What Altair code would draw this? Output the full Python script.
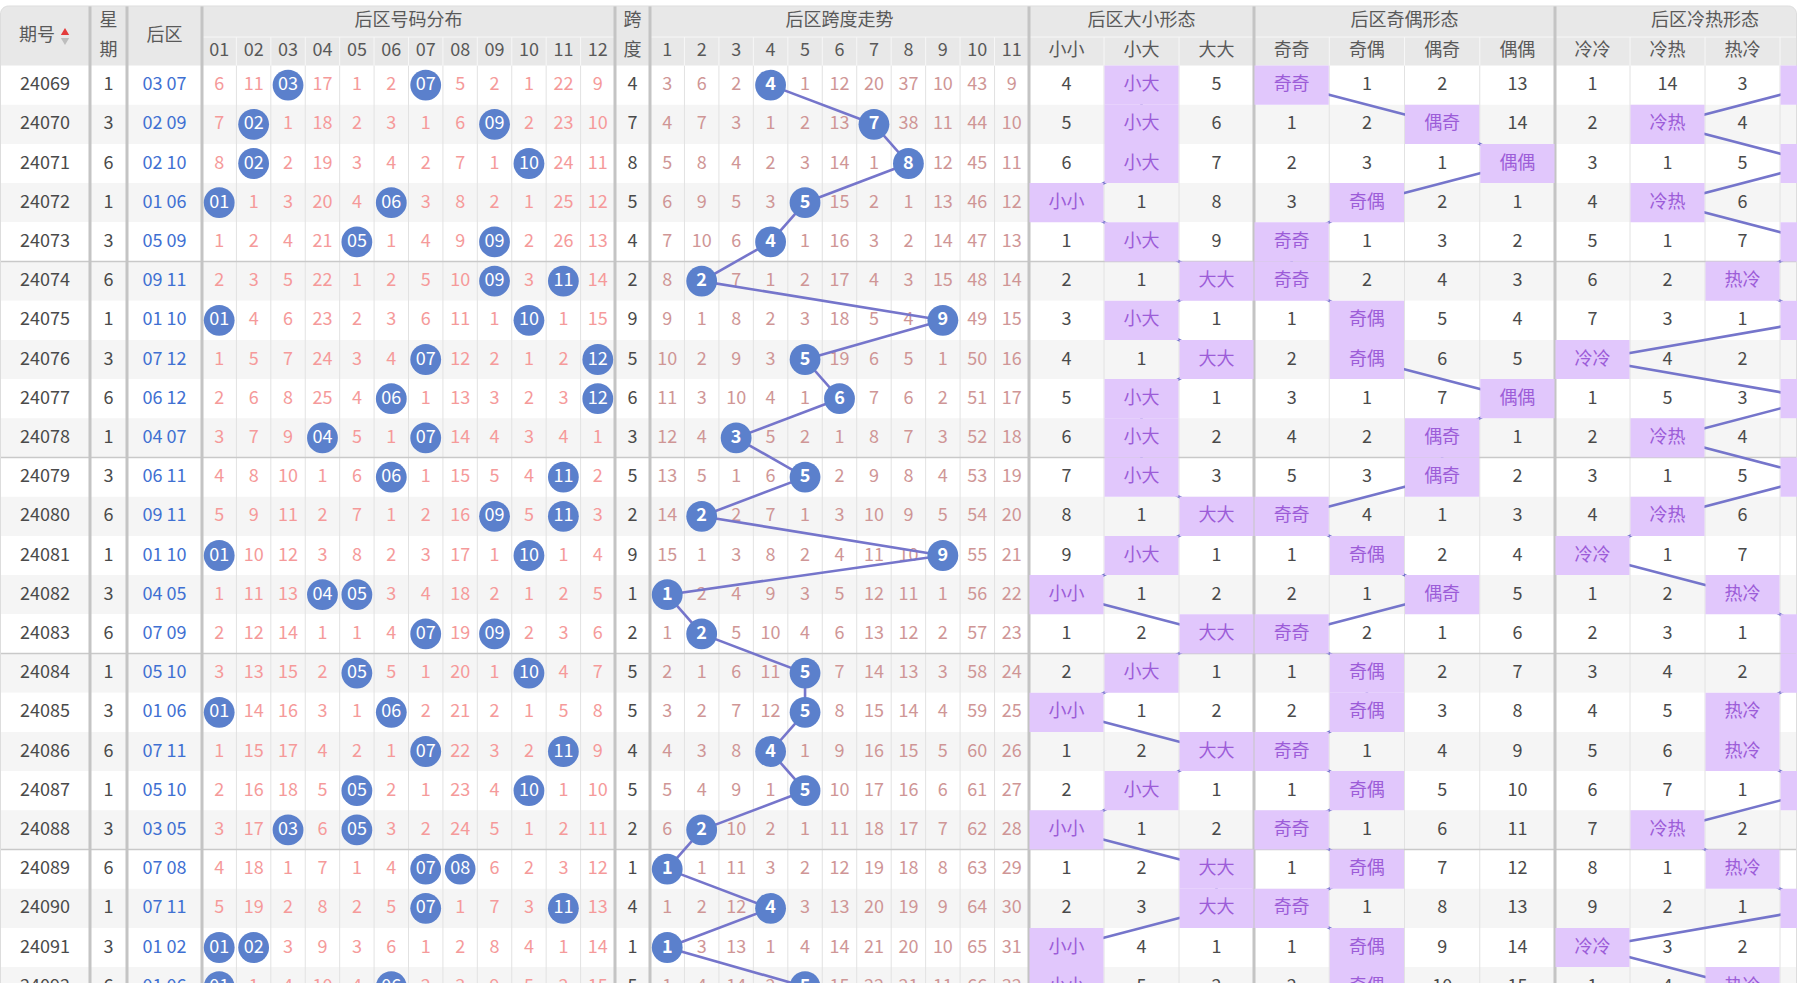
import altair as alt
import pandas as pd

W, H = 1797, 983

# ---------------- data ----------------
issues = ["24069", "24070", "24071", "24072", "24073", "24074", "24075", "24076",
          "24077", "24078", "24079", "24080", "24081", "24082", "24083", "24084",
          "24085", "24086", "24087", "24088", "24089", "24090", "24091", "24092"]
weekdays = [1, 3, 6, 1, 3, 6, 1, 3, 6, 1, 3, 6, 1, 3, 6, 1, 3, 6, 1, 3, 6, 1, 3, 6]
back_nums = ["03 07", "02 09", "02 10", "01 06", "05 09", "09 11", "01 10", "07 12",
             "06 12", "04 07", "06 11", "09 11", "01 10", "04 05", "07 09", "05 10",
             "01 06", "07 11", "05 10", "03 05", "07 08", "07 11", "01 02", "01 06"]
spans = [4, 7, 8, 5, 4, 2, 9, 5, 6, 3, 5, 2, 9, 1, 2, 5, 5, 4, 5, 2, 1, 4, 1, 5]

num_labels = ["01", "02", "03", "04", "05", "06", "07", "08", "09", "10", "11", "12"]
span_labels = ["1", "2", "3", "4", "5", "6", "7", "8", "9", "10", "11"]
size_labels = ["小小", "小大", "大大"]
oe_labels = ["奇奇", "奇偶", "偶奇", "偶偶"]
hc_labels = ["冷冷", "冷热", "热冷", "热热"]

# omission values, 0 marks the drawn number / current form
dist_omit = [
    [6, 11, 0, 17, 1, 2, 0, 5, 2, 1, 22, 9],
    [7, 0, 1, 18, 2, 3, 1, 6, 0, 2, 23, 10],
    [8, 0, 2, 19, 3, 4, 2, 7, 1, 0, 24, 11],
    [0, 1, 3, 20, 4, 0, 3, 8, 2, 1, 25, 12],
    [1, 2, 4, 21, 0, 1, 4, 9, 0, 2, 26, 13],
    [2, 3, 5, 22, 1, 2, 5, 10, 0, 3, 0, 14],
    [0, 4, 6, 23, 2, 3, 6, 11, 1, 0, 1, 15],
    [1, 5, 7, 24, 3, 4, 0, 12, 2, 1, 2, 0],
    [2, 6, 8, 25, 4, 0, 1, 13, 3, 2, 3, 0],
    [3, 7, 9, 0, 5, 1, 0, 14, 4, 3, 4, 1],
    [4, 8, 10, 1, 6, 0, 1, 15, 5, 4, 0, 2],
    [5, 9, 11, 2, 7, 1, 2, 16, 0, 5, 0, 3],
    [0, 10, 12, 3, 8, 2, 3, 17, 1, 0, 1, 4],
    [1, 11, 13, 0, 0, 3, 4, 18, 2, 1, 2, 5],
    [2, 12, 14, 1, 1, 4, 0, 19, 0, 2, 3, 6],
    [3, 13, 15, 2, 0, 5, 1, 20, 1, 0, 4, 7],
    [0, 14, 16, 3, 1, 0, 2, 21, 2, 1, 5, 8],
    [1, 15, 17, 4, 2, 1, 0, 22, 3, 2, 0, 9],
    [2, 16, 18, 5, 0, 2, 1, 23, 4, 0, 1, 10],
    [3, 17, 0, 6, 0, 3, 2, 24, 5, 1, 2, 11],
    [4, 18, 1, 7, 1, 4, 0, 0, 6, 2, 3, 12],
    [5, 19, 2, 8, 2, 5, 0, 1, 7, 3, 0, 13],
    [0, 0, 3, 9, 3, 6, 1, 2, 8, 4, 1, 14],
    [0, 1, 4, 10, 4, 0, 2, 3, 9, 5, 2, 15],
]
span_omit = [
    [3, 6, 2, 0, 1, 12, 20, 37, 10, 43, 9],
    [4, 7, 3, 1, 2, 13, 0, 38, 11, 44, 10],
    [5, 8, 4, 2, 3, 14, 1, 0, 12, 45, 11],
    [6, 9, 5, 3, 0, 15, 2, 1, 13, 46, 12],
    [7, 10, 6, 0, 1, 16, 3, 2, 14, 47, 13],
    [8, 0, 7, 1, 2, 17, 4, 3, 15, 48, 14],
    [9, 1, 8, 2, 3, 18, 5, 4, 0, 49, 15],
    [10, 2, 9, 3, 0, 19, 6, 5, 1, 50, 16],
    [11, 3, 10, 4, 1, 0, 7, 6, 2, 51, 17],
    [12, 4, 0, 5, 2, 1, 8, 7, 3, 52, 18],
    [13, 5, 1, 6, 0, 2, 9, 8, 4, 53, 19],
    [14, 0, 2, 7, 1, 3, 10, 9, 5, 54, 20],
    [15, 1, 3, 8, 2, 4, 11, 10, 0, 55, 21],
    [0, 2, 4, 9, 3, 5, 12, 11, 1, 56, 22],
    [1, 0, 5, 10, 4, 6, 13, 12, 2, 57, 23],
    [2, 1, 6, 11, 0, 7, 14, 13, 3, 58, 24],
    [3, 2, 7, 12, 0, 8, 15, 14, 4, 59, 25],
    [4, 3, 8, 0, 1, 9, 16, 15, 5, 60, 26],
    [5, 4, 9, 1, 0, 10, 17, 16, 6, 61, 27],
    [6, 0, 10, 2, 1, 11, 18, 17, 7, 62, 28],
    [0, 1, 11, 3, 2, 12, 19, 18, 8, 63, 29],
    [1, 2, 12, 0, 3, 13, 20, 19, 9, 64, 30],
    [0, 3, 13, 1, 4, 14, 21, 20, 10, 65, 31],
    [1, 4, 14, 2, 0, 15, 22, 21, 11, 66, 32],
]
size_omit = [
    [4, 0, 5], [5, 0, 6], [6, 0, 7], [0, 1, 8], [1, 0, 9], [2, 1, 0], [3, 0, 1], [4, 1, 0],
    [5, 0, 1], [6, 0, 2], [7, 0, 3], [8, 1, 0], [9, 0, 1], [0, 1, 2], [1, 2, 0], [2, 0, 1],
    [0, 1, 2], [1, 2, 0], [2, 0, 1], [0, 1, 2], [1, 2, 0], [2, 3, 0], [0, 4, 1], [0, 5, 2],
]
oe_omit = [
    [0, 1, 2, 13], [1, 2, 0, 14], [2, 3, 1, 0], [3, 0, 2, 1], [0, 1, 3, 2], [0, 2, 4, 3],
    [1, 0, 5, 4], [2, 0, 6, 5], [3, 1, 7, 0], [4, 2, 0, 1], [5, 3, 0, 2], [0, 4, 1, 3],
    [1, 0, 2, 4], [2, 1, 0, 5], [0, 2, 1, 6], [1, 0, 2, 7], [2, 0, 3, 8], [0, 1, 4, 9],
    [1, 0, 5, 10], [0, 1, 6, 11], [1, 0, 7, 12], [0, 1, 8, 13], [1, 0, 9, 14], [2, 0, 10, 15],
]
hc_omit = [
    [1, 14, 3, 0], [2, 0, 4, None], [3, 1, 5, 0], [4, 0, 6, None], [5, 1, 7, 0],
    [6, 2, 0, None], [7, 3, 1, 0], [0, 4, 2, None], [1, 5, 3, 0], [2, 0, 4, None],
    [3, 1, 5, 0], [4, 0, 6, None], [0, 1, 7, None], [1, 2, 0, None], [2, 3, 1, 0],
    [3, 4, 2, 0], [4, 5, 0, None], [5, 6, 0, None], [6, 7, 1, 0], [7, 0, 2, None],
    [8, 1, 0, None], [9, 2, 1, 0], [0, 3, 2, None], [1, 4, 0, None],
]

# ---------------- layout / style ----------------
HDR_TOP, HDR_MID, BODY_TOP, ROW_H = 6, 37, 65.5, 39.2
FONT = "Noto Sans CJK SC"
FS = 18
DARK = "#4a4a4a"
HDR_TXT = "#595959"
BLUE_TXT = "#3f70d2"
PINK = "#f59a9a"
DUSTY = "#cf9696"
BALL = "#5b80cc"
LINE = "#7575cb"
HL_BG = "#e1c7fc"
HL_TXT = "#9c5cd8"

ISSUE = (0, 90)
WEEK = (90, 127)
BACK = (127, 202)
SPANC = (615, 650)
NUM = (202, 615, 12)
TREND = (650, 1029, 11)
SIZE = (1029, 1254, 3)
OE = (1254, 1555, 4)
HC = (1555, 1855, 4)

n_rows = len(issues)


def mid(c):
    return (c[0] + c[1]) / 2


def centers(g):
    w = (g[1] - g[0]) / g[2]
    return [g[0] + w * (k + 0.5) for k in range(g[2])]


def inner_edges(g):
    w = (g[1] - g[0]) / g[2]
    return [g[0] + w * k for k in range(1, g[2])]


def row_top(i):
    return BODY_TOP + ROW_H * i


def row_c(i):
    return BODY_TOP + ROW_H * (i + 0.5)


SX = alt.Scale(domain=[0, W], range=[0, W], nice=False, zero=False)
SY = alt.Scale(domain=[0, H], range=[0, H], nice=False, zero=False)


def X(f="x"):
    return alt.X(f"{f}:Q", scale=SX, axis=None)


def Y(f="y"):
    return alt.Y(f"{f}:Q", scale=SY, axis=None)


def rects(rows):
    return alt.Chart(pd.DataFrame(rows)).mark_rect().encode(
        x=X("x"), x2="x2", y=Y("y"), y2="y2",
        color=alt.Color("c:N", scale=None))


def rules(rows, width):
    return alt.Chart(pd.DataFrame(rows)).mark_rule(strokeWidth=width).encode(
        x=X("x"), x2="x2", y=Y("y"), y2="y2",
        color=alt.Color("c:N", scale=None))


def texts(rows, weight="normal", size=FS):
    rows = [r for r in rows if r["x"] < W - 10]  # columns scrolled out of view are not drawn
    return alt.Chart(pd.DataFrame(rows)).mark_text(
        font=FONT, fontSize=size, fontWeight=weight, align="center", baseline="middle"
    ).encode(x=X("x"), y=Y("y"), text="t:N", color=alt.Color("c:N", scale=None))


layers = []

# background stripes
bg = []
for i in range(n_rows):
    bg.append(dict(x=0, x2=W, y=row_top(i), y2=row_top(i) + ROW_H,
                   c="#ffffff" if i % 2 == 0 else "#f5f5f5"))
layers.append(rects(bg))

# header background
layers.append(alt.Chart(pd.DataFrame([dict(x=0.5, x2=W - 0.5, y=HDR_TOP, y2=BODY_TOP)])).mark_rect(
    color="#e8e8e8", cornerRadiusTopLeft=8, cornerRadiusTopRight=8).encode(
    x=X("x"), x2="x2", y=Y("y"), y2="y2"))

# thin vertical lines (body and header second row)
thin_body, thin_hdr = [], []
for g in (NUM, TREND, SIZE, OE, HC):
    for xe in inner_edges(g):
        thin_body.append(dict(x=xe, x2=xe, y=BODY_TOP, y2=H, c="#e2e2e2"))
        thin_hdr.append(dict(x=xe, x2=xe, y=HDR_MID, y2=BODY_TOP, c="#f7f7f7"))
for g in (NUM, TREND, SIZE, OE, HC):
    thin_hdr.append(dict(x=g[0], x2=g[1], y=HDR_MID, y2=HDR_MID, c="#f7f7f7"))
layers.append(rules(thin_body, 1))
layers.append(rules(thin_hdr, 1))

# group horizontal lines every five rows
grp = []
for i in range(5, n_rows, 5):
    grp.append(dict(x=0, x2=W, y=row_top(i), y2=row_top(i), c="#c9c9c9"))
layers.append(rules(grp, 1.6))

# thick vertical group lines
thick = []
for xe in (ISSUE[1], WEEK[1], BACK[1], SPANC[0], SPANC[1], SIZE[0], OE[0], HC[0]):
    thick.append(dict(x=xe, x2=xe, y=HDR_TOP, y2=H, c="#c4c4c4"))
layers.append(rules(thick, 3))

# container border
layers.append(alt.Chart(pd.DataFrame([dict(x=0.5, x2=W - 0.5, y=HDR_TOP, y2=H + 20)])).mark_rect(
    fill=None, stroke="#dddddd", strokeWidth=1, cornerRadius=8).encode(
    x=X("x"), x2="x2", y=Y("y"), y2="y2"))

# header texts
ht = []
R1, R2, RM = 21, 51, 36
ht.append(dict(x=37, y=RM, t="期号", c=HDR_TXT))
ht.append(dict(x=mid(WEEK), y=R1, t="星", c=HDR_TXT))
ht.append(dict(x=mid(WEEK), y=R2, t="期", c=HDR_TXT))
ht.append(dict(x=mid(BACK), y=RM, t="后区", c=HDR_TXT))
ht.append(dict(x=mid(SPANC), y=R1, t="跨", c=HDR_TXT))
ht.append(dict(x=mid(SPANC), y=R2, t="度", c=HDR_TXT))
for g, title, labs in ((NUM, "后区号码分布", num_labels), (TREND, "后区跨度走势", span_labels),
                       (SIZE, "后区大小形态", size_labels), (OE, "后区奇偶形态", oe_labels),
                       (HC, "后区冷热形态", hc_labels)):
    ht.append(dict(x=(g[0] + g[1]) / 2, y=R1, t=title, c=HDR_TXT))
    for cx, lab in zip(centers(g), labs):
        ht.append(dict(x=cx, y=R2, t=lab, c=HDR_TXT))
layers.append(texts(ht))

# sort arrows
layers.append(alt.Chart(pd.DataFrame([dict(x=65, y=31.5)])).mark_point(
    shape="triangle-up", filled=True, size=70, opacity=1, color="#e33b3b").encode(x=X(), y=Y()))
layers.append(alt.Chart(pd.DataFrame([dict(x=65, y=41.5)])).mark_point(
    shape="triangle-down", filled=True, size=70, opacity=1, color="#bdbdbd").encode(x=X(), y=Y()))

# body texts
bt, balls, ball_txt, span_ball_txt = [], [], [], []
span_path = []
hl_rect, hl_txt = [], []
form_pts = {"size": [], "oe": [], "hc": []}
num_cx = centers(NUM)
tr_cx = centers(TREND)
for i in range(n_rows):
    y = row_c(i)
    bt.append(dict(x=45, y=y, t=issues[i], c=DARK))
    bt.append(dict(x=mid(WEEK), y=y, t=str(weekdays[i]), c=DARK))
    bt.append(dict(x=mid(BACK), y=y, t=back_nums[i], c=BLUE_TXT))
    bt.append(dict(x=mid(SPANC), y=y, t=str(spans[i]), c=DARK))
    for k, v in enumerate(dist_omit[i]):
        if v == 0:
            balls.append(dict(x=num_cx[k], y=y))
            ball_txt.append(dict(x=num_cx[k], y=y, t=num_labels[k], c="#ffffff"))
        else:
            bt.append(dict(x=num_cx[k], y=y, t=str(v), c=PINK))
    for k, v in enumerate(span_omit[i]):
        if v == 0:
            balls.append(dict(x=tr_cx[k], y=y))
            span_ball_txt.append(dict(x=tr_cx[k], y=y, t=span_labels[k], c="#ffffff"))
            span_path.append((tr_cx[k], y))
        else:
            bt.append(dict(x=tr_cx[k], y=y, t=str(v), c=DUSTY))
    for key, g, vals, labs in (("size", SIZE, size_omit[i], size_labels),
                               ("oe", OE, oe_omit[i], oe_labels),
                               ("hc", HC, hc_omit[i], hc_labels)):
        cxs = centers(g)
        w = (g[1] - g[0]) / g[2]
        for k, v in enumerate(vals):
            if v is None:
                continue
            if v == 0:
                hl_rect.append(dict(x=g[0] + w * k + 0.5, x2=g[0] + w * (k + 1) - 0.5,
                                    y=row_top(i), y2=row_top(i) + ROW_H, c=HL_BG))
                hl_txt.append(dict(x=cxs[k], y=y, t=labs[k], c=HL_TXT))
                form_pts[key].append((cxs[k], y))
            else:
                bt.append(dict(x=cxs[k], y=y, t=str(v), c=DARK))
layers.append(texts(bt))

# span trend polyline segments
seg = []
for (x0, y0), (x1, y1) in zip(span_path[:-1], span_path[1:]):
    seg.append(dict(x=x0, y=y0, x2=x1, y2=y1, c=LINE))
layers.append(rules(seg, 2.6))

# balls
layers.append(alt.Chart(pd.DataFrame(balls)).mark_circle(size=950, opacity=1, color=BALL).encode(
    x=X(), y=Y()))
layers.append(texts(ball_txt))
layers.append(texts(span_ball_txt, weight="bold"))

# form connecting lines
fseg = []
for key in ("size", "oe", "hc"):
    pts = form_pts[key]
    for (x0, y0), (x1, y1) in zip(pts[:-1], pts[1:]):
        fseg.append(dict(x=x0, y=y0, x2=x1, y2=y1, c=LINE))
layers.append(rules(fseg, 2.6))

# highlighted form cells
layers.append(rects(hl_rect))
layers.append(texts(hl_txt))

chart = alt.layer(*layers).properties(
    width=W, height=H, padding=0, autosize=alt.AutoSizeParams(type="none"),
    background="#ffffff"
).configure_view(stroke=None)

chart.save("out.html", embed_options={"renderer": "svg", "actions": False})
